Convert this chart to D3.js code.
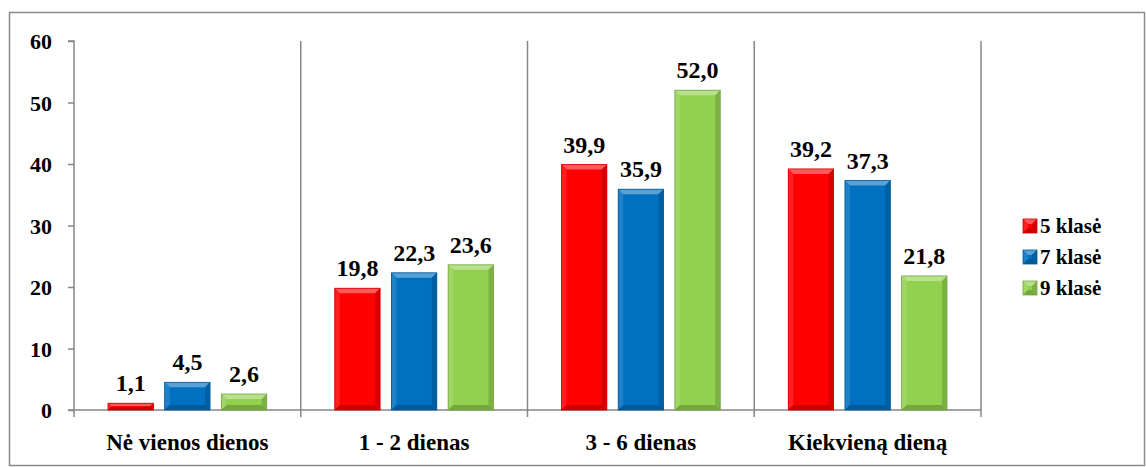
<!DOCTYPE html>
<html><head><meta charset="utf-8">
<style>
body { margin: 0; }
svg text.lbl { font-family: "Liberation Serif", Tinos, "Times New Roman", serif !important; font-weight: bold !important; }
</style>
<script src="https://cdn.jsdelivr.net/npm/d3@7"></script>
</head><body>
<script>
const categories = ["Nė vienos dienos", "1 - 2 dienas", "3 - 6 dienas", "Kiekvieną dieną"];
const seriesNames = ["5 klasė", "7 klasė", "9 klasė"];
const values5 = [1.1, 19.8, 39.9, 39.2];
const values7 = [4.5, 22.3, 35.9, 37.3];
const values9 = [2.6, 23.6, 52.0, 21.8];
const yTicks = [0, 10, 20, 30, 40, 50, 60];
const colors = ["#FF0000", "#0070C0", "#92D050"];

const series = [values5, values7, values9];
const W = 1146, H = 467;
const svg = d3.select("body").append("svg").attr("width", W).attr("height", H).style("display", "block");

function txt(sel, size) {
  return sel.classed("lbl", true)
    .style("font-family", '"Liberation Serif", Tinos, "Times New Roman", serif', "important")
    .style("font-weight", "bold", "important")
    .style("font-size", size + "px", "important")
    .attr("fill", "#000");
}

svg.append("rect").attr("x", 9.5).attr("y", 12.5).attr("width", 1135).attr("height", 453)
  .attr("fill", "#fff").attr("stroke", "#8a8a8a").attr("stroke-width", 1.5);

const x0 = d3.scaleBand().domain(categories).range([74, 981]).padding(0);
const x1 = d3.scaleBand().domain(seriesNames).range([0, x0.bandwidth()]).paddingInner(0.2).paddingOuter(0.6);
const y = d3.scaleLinear().domain([0, 60]).range([410, 41]);

const bounds = categories.map(c => x0(c)).concat([x0.range()[1]]);
svg.selectAll(".sep").data(bounds.slice(1)).enter().append("line")
  .attr("x1", d => d).attr("x2", d => d).attr("y1", y(60)).attr("y2", y(0) + 7)
  .attr("stroke", "#868686").attr("stroke-width", 1.5);

// y axis
const yAxis = d3.axisLeft(y).tickValues(yTicks).tickSize(6).tickPadding(16).tickFormat(d3.format("d"));
const ga = svg.append("g").attr("transform", "translate(74,0)").call(yAxis);
ga.attr("font-family", null).attr("font-size", null);
ga.select(".domain").attr("stroke", "#868686").attr("stroke-width", 1.5).attr("d", `M-6,${y(60)}H0V${y(0)}`);
ga.selectAll(".tick line").attr("stroke", "#868686").attr("stroke-width", 1.5);
txt(ga.selectAll(".tick text"), 22).attr("dy", "0.36em");

// x axis
svg.append("line").attr("x1", 68).attr("x2", 981).attr("y1", y(0)).attr("y2", y(0)).attr("stroke", "#868686").attr("stroke-width", 1.5);
svg.append("line").attr("x1", 74).attr("x2", 74).attr("y1", y(0)).attr("y2", y(0) + 7).attr("stroke", "#868686").attr("stroke-width", 1.5);

categories.forEach(c => {
  txt(svg.append("text").attr("x", x0(c) + x0.bandwidth() / 2).attr("y", 450).attr("text-anchor", "middle"), 23).text(c);
});

function shade(c, k) { return k > 0 ? d3.interpolateRgb(c, "#fff")(k) : d3.interpolateRgb(c, "#000")(-k); }

function drawBar(g, bx, by, bw, bh, color) {
  const b = Math.min(5, bh / 2, bw / 2);
  g.append("rect").attr("x", bx).attr("y", by).attr("width", bw).attr("height", bh).attr("fill", color);
  g.append("polygon").attr("points", `${bx},${by} ${bx + bw},${by} ${bx + bw - b},${by + b} ${bx + b},${by + b}`).attr("fill", shade(color, 0.35));
  g.append("polygon").attr("points", `${bx},${by} ${bx + b},${by + b} ${bx + b},${by + bh - b} ${bx},${by + bh}`).attr("fill", shade(color, 0.12));
  g.append("polygon").attr("points", `${bx + bw},${by} ${bx + bw - b},${by + b} ${bx + bw - b},${by + bh - b} ${bx + bw},${by + bh}`).attr("fill", shade(color, -0.15));
  g.append("polygon").attr("points", `${bx},${by + bh} ${bx + b},${by + bh - b} ${bx + bw - b},${by + bh - b} ${bx + bw},${by + bh}`).attr("fill", shade(color, -0.2));
  g.append("rect").attr("x", bx).attr("y", by).attr("width", bw).attr("height", bh).attr("fill", "none").attr("stroke", shade(color, -0.2)).attr("stroke-width", 0.8);
}

series.forEach((vals, si) => {
  vals.forEach((v, ci) => {
    const bx = x0(categories[ci]) + x1(seriesNames[si]);
    const bw = x1.bandwidth();
    drawBar(svg, bx, y(v), bw, y(0) - y(v), colors[si]);
    txt(svg.append("text").attr("x", bx + bw / 2).attr("y", y(v) - 12).attr("text-anchor", "middle"), 24)
      .text(d3.format(".1f")(v).replace(".", ","));
  });
});

seriesNames.forEach((s, i) => {
  const ly = 226 + i * 31;
  drawBar(svg, 1023, ly - 7, 14, 14, colors[i]);
  txt(svg.append("text").attr("x", 1040).attr("y", ly + 7), 21).text(s);
});
</script>
</body></html>
